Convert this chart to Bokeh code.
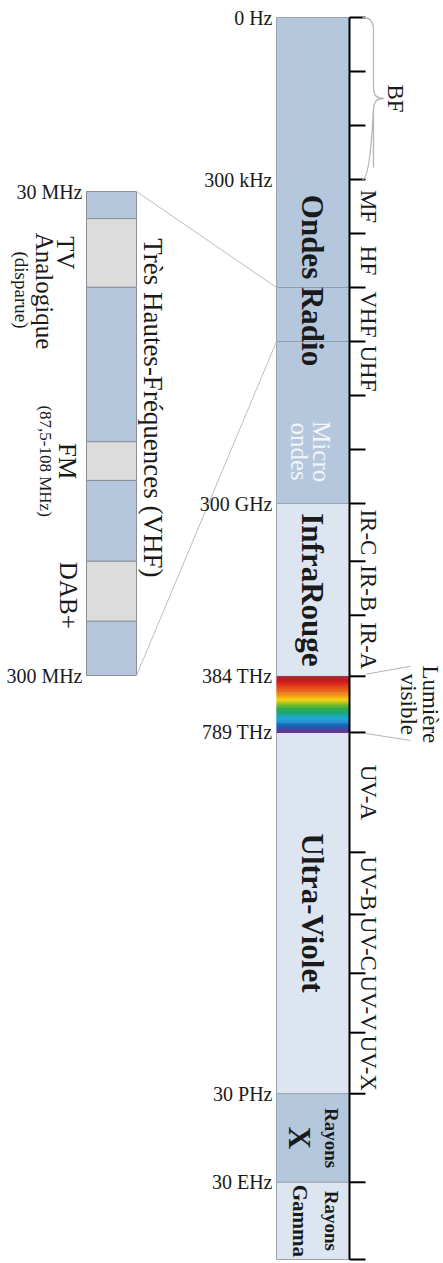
import numpy as np
from bokeh.plotting import figure
from bokeh.models import Range1d
from bokeh.core.properties import value
from bokeh.embed import file_html
from bokeh.resources import INLINE

# ---------------- DATA (schematic positions, main scale in "decade" units from 0 Hz) -------------
section_names = ["Ondes Radio", "InfraRouge", "Visible", "Ultra-Violet", "Rayons X", "Rayons Gamma"]
section_start = [0.0, 9.0, 12.2, 13.24, 19.93, 21.57]
section_end = [9.0, 12.2, 13.24, 19.93, 21.57, 23.0]

freq_labels = ["0 Hz", "300 kHz", "300 GHz", "384 THz", "789 THz", "30 PHz", "30 EHz"]
freq_pos = [0.0, 3.0, 9.0, 12.2, 13.24, 19.93, 21.57]

tick_pos = [0, 1, 2, 3, 4, 5, 6, 7, 8, 9, 10.07, 11.07, 12.2, 13.24,
            15.46, 16.61, 17.70, 18.80, 19.93, 21.57, 23.0]

band_labels = ["MF", "HF", "VHF", "UHF", "IR-C", "IR-B", "IR-A",
               "UV-A", "UV-B", "UV-C", "UV-V", "UV-X"]
band_start = [3, 4, 5, 6, 9, 10.07, 11.07, 13.24, 15.46, 16.61, 17.70, 18.80]
band_end = [4, 5, 6, 7, 10.07, 11.07, 12.2, 15.46, 16.61, 17.70, 18.80, 19.93]

bf_start, bf_end = 0.0, 3.0
vhf_start, vhf_end = 5.0, 6.0

# VHF zoom: positions as fraction of the 30 MHz - 300 MHz decade
inset_start = [0.0, 0.056, 0.198, 0.517, 0.597, 0.764, 0.888]
inset_end = [0.056, 0.198, 0.517, 0.597, 0.764, 0.888, 1.0]
inset_kind = ["VHF", "TV", "VHF", "FM", "VHF", "DAB+", "VHF"]
inset_freq_labels = ["30 MHz", "300 MHz"]
inset_freq_pos = [0.0, 1.0]

# visible spectrum colour stops (red at 384 THz -> violet at 789 THz)
rainbow_stops = [0.0, 0.12, 0.3, 0.42, 0.55, 0.65, 0.76, 0.88, 1.0]
rainbow_cols = ["#a3101c", "#d8231f", "#f07a1a", "#f8d414", "#3fae35",
                "#1aa67a", "#22a7df", "#1463b2", "#6e2f92"]

# ---------------- LAYOUT ----------------
BLUE = "#b4c7dd"
LIGHT = "#dde6f0"
GREY = "#dcdcdc"
FONT = value("Liberation Serif")
INK = "#1a1a1a"
W, H = 443, 1263

def my(u):  # main scale -> page px
    return 17 + 54.0 * np.asarray(u, dtype=float)

def iy(v):  # inset scale -> page px
    return 191 + 484.0 * np.asarray(v, dtype=float)

BAR_L, BAR_R = 276, 349
IN_L, IN_R = 86, 136
TICK_R = 365

p = figure(width=W, height=H, output_backend="svg", toolbar_location=None,
           x_range=Range1d(0, W), y_range=Range1d(H, 0), min_border=0)
p.axis.visible = False
p.grid.visible = False
p.outline_line_color = None
p.background_fill_color = "white"

ROT = -np.pi / 2

# --- main bar sections
fills = [BLUE, LIGHT, None, LIGHT, BLUE, LIGHT]
for s, e, c in zip(section_start, section_end, fills):
    if c is None:
        continue
    p.quad(left=BAR_L, right=BAR_R, top=float(my(s)), bottom=float(my(e)),
           fill_color=c, line_color="#9aa4b0", line_width=1)

# visible spectrum gradient
vis_s, vis_e = section_start[2], section_end[2]
n = 60
edges = np.linspace(vis_s, vis_e, n + 1)
def hex2rgb(h):
    return np.array([int(h[i:i + 2], 16) for i in (1, 3, 5)], dtype=float)
stops_rgb = np.array([hex2rgb(c) for c in rainbow_cols])
mid = (np.arange(n) + 0.5) / n
cols = []
for t in mid:
    rgb = [np.interp(t, rainbow_stops, stops_rgb[:, k]) for k in range(3)]
    cols.append("#%02x%02x%02x" % tuple(int(round(v)) for v in rgb))
p.quad(left=BAR_L, right=BAR_R, top=my(edges[:-1]), bottom=my(edges[1:]) + 0.6,
       fill_color=cols, line_color=None)

# VHF lines inside radio band
p.segment(x0=BAR_L, x1=BAR_R, y0=my([vhf_start, vhf_end]), y1=my([vhf_start, vhf_end]),
          line_color="#8c9db2", line_width=1)

# --- inset bar
inset_fill = [GREY if k != "VHF" else BLUE for k in inset_kind]
p.quad(left=IN_L, right=IN_R, top=iy(inset_start), bottom=iy(inset_end),
       fill_color=inset_fill, line_color="#8a8f96", line_width=1)

# connecting lines
p.segment(x0=[IN_R, IN_R], y0=iy([0, 1]), x1=[BAR_L, BAR_L], y1=my([vhf_start, vhf_end]),
          line_color="#bdbdbd", line_width=1)

# --- axis and ticks
p.segment(x0=BAR_R, x1=BAR_R, y0=float(my(tick_pos[0])), y1=float(my(tick_pos[-1])),
          line_color="black", line_width=2)
p.segment(x0=BAR_R, x1=TICK_R, y0=my(tick_pos), y1=my(tick_pos),
          line_color="black", line_width=2)

# --- BF brace
y0, y1 = float(my(bf_start)), float(my(bf_end))
ym = (y0 + y1) / 2
bx, tip = 373, 383
bc = "#b5b5b5"
p.bezier(x0=[362, bx, tip, bx], y0=[y0, ym - 12, ym, ym + 12],
         x1=[bx, tip, bx, 362], y1=[y0 + 12, ym, ym + 12, y1],
         cx0=[370, bx, tip - 6, bx], cy0=[y0, ym - 2, ym, ym + 10],
         cx1=[bx, tip - 6, bx, 370], cy1=[y0 + 4, ym, ym + 2, y1],
         line_color=bc, line_width=1.3)
p.segment(x0=[bx, bx], x1=[bx, bx], y0=[y0 + 12, ym + 12], y1=[ym - 12, y1 - 12],
          line_color=bc, line_width=1.3)

# visible-light pointer lines
vs, ve = float(my(vis_s)), float(my(vis_e))
p.segment(x0=[TICK_R, TICK_R], y0=[vs - 2, ve + 1], x1=[410, 410], y1=[vs - 10, ve + 8],
          line_color="#b5b5b5", line_width=1)

# --- texts
def rtext(x, y, t, size, bold=False, color=INK, align="center"):
    p.text(x=[x], y=[y], text=[t], angle=ROT, text_font=FONT, text_font_size=f"{size}px",
           text_font_style="bold" if bold else "normal", text_color=color,
           text_align=align, text_baseline="middle")

p.text(x=[272] * len(freq_labels), y=my(freq_pos), text=freq_labels, text_font=FONT,
       text_font_size="20px", text_color=INK, text_align="right", text_baseline="middle")
p.text(x=[82] * 2, y=iy(inset_freq_pos), text=inset_freq_labels, text_font=FONT,
       text_font_size="20px", text_color=INK, text_align="right", text_baseline="middle")

rtext(312, float(my(4.87)), section_names[0], 31, bold=True)
rtext(321, float(my(8.04)), "Micro", 25, color="#f2f5fa")
rtext(299, float(my(8.04)), "ondes", 25, color="#f2f5fa")
rtext(312, float(my((section_start[1] + section_end[1]) / 2)), section_names[1], 31, bold=True)
rtext(312, float(my((section_start[3] + section_end[3]) / 2)), section_names[3], 31, bold=True)
cx = float(my((section_start[4] + section_end[4]) / 2))
rtext(331, cx, "Rayons", 19, bold=True)
rtext(299, cx, "X", 31, bold=True)
cg = float(my((section_start[5] + section_end[5]) / 2))
rtext(331, cg, "Rayons", 19, bold=True)
rtext(299, cg, "Gamma", 21, bold=True)

for lab, s, e in zip(band_labels, band_start, band_end):
    rtext(368, float(my((s + e) / 2)), lab, 23)
rtext(395, ym, "BF", 23)
rtext(430, (vs + ve) / 2, "Lumière", 23)
rtext(408, (vs + ve) / 2, "visible", 23)

# inset labels
rtext(152, float(iy(0.447)), "Très Hautes-Fréquences (VHF)", 27)
tv = float(iy((inset_start[1] + inset_end[1]) / 2))
rtext(65, tv, "TV", 25)
rtext(44, tv + 38, "Analogique", 25)
rtext(21, tv + 37, "(disparue)", 19)
fm = float(iy((inset_start[3] + inset_end[3]) / 2))
rtext(67, fm, "FM", 25)
rtext(45, fm, "(87,5-108 MHz)", 17)
dab = float(iy((inset_start[5] + inset_end[5]) / 2))
rtext(68, dab + 4, "DAB+", 25)

open("out.html", "w").write(file_html(p, INLINE))
